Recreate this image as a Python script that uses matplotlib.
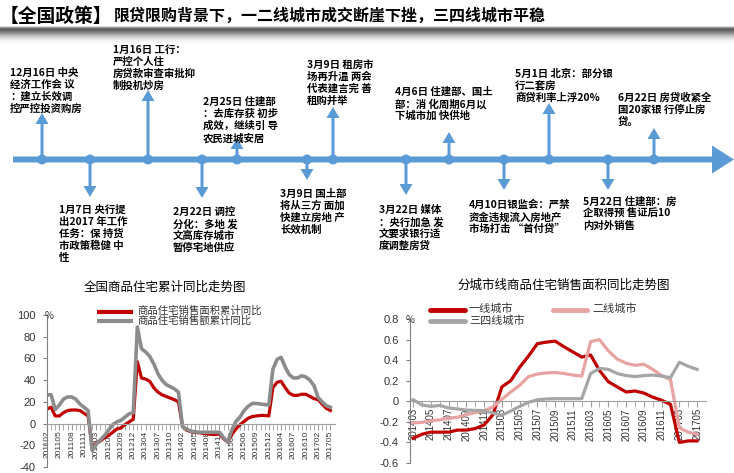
import numpy as np
import matplotlib
matplotlib.use('Agg')
import matplotlib.pyplot as plt
from matplotlib.patches import FancyArrow, Circle

plt.rcParams['font.family'] = ['Noto Sans CJK SC', 'DejaVu Sans']
plt.rcParams['axes.unicode_minus'] = False

# ---------------- data ----------------
# national cumulative YoY, monthly 2011-02 .. 2017-05 (January not published)
nat_months = [f"{y}{m:02d}" for y in range(2011, 2018) for m in range(2, 13)
              if f"{y}{m:02d}" <= "201705"]
nat_area = [13.5, 15, 7, 7, 10, 12, 12.5, 12.5, 12, 9.5, 7,
            -22, -18, -16, -13, -11, -8, -5, -4, -1, 1.5, 4,
            57, 42, 41, 39, 33, 29, 26.5, 25, 23.5, 22, 20,
            -2.5, -6, -7.5, -8, -8.5, -9, -9.5, -10, -10, -9.5, -14,
            -17, -10, -5, -1, 2, 5, 6.5, 7, 7.5, 7.5, 7,
            33, 38, 39, 33, 28, 26, 26, 27, 27, 25, 23,
            22, 18, 14, 12]
nat_value = [26.5, 26.5, 13, 17, 22.5, 24.5, 24.5, 22.5, 18, 15, 12,
             -25, -19, -15, -11, -6, -1, 1.5, 3, 6, 9, 10,
             89, 69, 66, 62, 55, 46, 40, 36, 34, 32, 29,
             -3, -5, -7, -7.5, -8, -8, -8, -8, -8, -8, -13,
             -17, -6, 2, 6, 12, 16, 18.5, 18.5, 18, 17.5, 17,
             50, 59, 61, 52, 45, 42, 42, 44, 43, 40, 35,
             24, 20, 16.5, 15]

# sales area YoY by city tier, 2014-03 .. 2017-05 (Jan/Feb merged)
city_months = [f"{y}{m:02d}" for y in range(2014, 2018) for m in range(3, 13)
               if f"{y}{m:02d}" <= "201705"]
tier1 = [-0.36, -0.32, -0.30, -0.30, -0.30, -0.28, -0.28, -0.265, -0.23, -0.13,
         0.14, 0.20, 0.33, 0.44, 0.56, 0.575, 0.585, 0.53, 0.48, 0.43,
         0.45, 0.30, 0.19, 0.14, 0.09, 0.10, 0.08, 0.04, 0.01, -0.03,
         -0.40, -0.385, -0.385]
tier2 = [-0.21, -0.205, -0.19, -0.18, -0.165, -0.155, -0.13, -0.11, -0.09, -0.055,
         0.02, 0.09, 0.155, 0.24, 0.265, 0.275, 0.28, 0.27, 0.255, 0.245,
         0.58, 0.60, 0.49, 0.41, 0.37, 0.35, 0.36, 0.31, 0.25, 0.21,
         -0.26, -0.30, -0.32]
tier34 = [0.015, -0.035, -0.05, -0.04, -0.065, -0.075, -0.085, -0.088, -0.09, -0.115,
          -0.135, -0.095, -0.05, -0.01, 0.015, 0.022, 0.025, 0.025, 0.025, 0.025,
          0.27, 0.32, 0.31, 0.27, 0.25, 0.24, 0.25, 0.255, 0.245, 0.23,
          0.38, 0.34, 0.31]

title_main = '【全国政策】'
title_sub = '限贷限购背景下，一二线城市成交断崖下挫，三四线城市平稳'

# timeline notes above the line / below the line
notes_up = ["12月16日 中央\n经济工作会 议\n：建立长效调\n控严控投资购房",
            "1月16日 工行：\n严控个人住\n房贷款审查审批抑\n制投机炒房",
            "2月25日 住建部\n：去库存获 初步\n成效，继续引 导\n农民进城安居",
            "3月9日 租房市\n场再升温 两会\n代表建言完 善\n租购并举",
            "4月6日 住建部、国土\n部：消 化周期6月以\n下城市加 快供地",
            "5月1日 北京：部分银\n行二套房\n商贷利率上浮20%",
            "6月22日 房贷收紧全\n国20家银 行停止房\n贷。"]
notes_down = ["1月7日 央行提\n出2017 年工作\n任务：保 持货\n市政策稳健 中\n性",
              "2月22日 调控\n分化：多地 发\n文高库存城市\n暂停宅地供应",
              "3月9日 国土部\n将从三方 面加\n快建立房地 产\n长效机制",
              "3月22日 媒体\n：央行加急 发\n文要求银行适\n度调整房贷",
              "4月10日银监会：严禁\n资金违规流入房地产\n市场打击 “首付贷”",
              "5月22日 住建部：房\n企取得预 售证后10\n内对外销售"]

# layout of the timeline (pixels)
up_layout = [(10, 68, 42, 113), (113, 45, 148, 90), (203, 97, 237, 138),
             (307, 60, 333, 107), (395, 87, 449, 132), (515, 69, 549, 103),
             (618, 93, 654, 128)]
down_layout = [(59, 205, 90, 197), (173, 207, 202, 198), (280, 189, 307, 180),
               (379, 205, 406, 195), (469, 200, 504, 190), (583, 197, 608, 190)]

BLUE = '#5B9BD5'
TXT = '#333333'

fig = plt.figure(figsize=(7.34, 4.73), dpi=100)

W, H = 734, 473
axL = fig.add_axes([47 / W, 6 / H, 287.5 / W, 152 / H])
axR = fig.add_axes([410 / W, 10 / H, 296 / W, 144 / H])

# ---------------- left chart ----------------
xL = np.arange(len(nat_months))
axL.plot(xL, nat_area, color='#C00000', lw=2.3, solid_joinstyle='round')
axL.plot(xL, nat_value, color='#8C8C8C', lw=2.6, solid_joinstyle='round')
axL.set_xlim(0, 70)
axL.set_ylim(-40, 100)
axL.set_yticks(range(-40, 101, 20))
axL.set_xticks(xL[::3])
axL.set_xticklabels(nat_months[::3])
axL.set_xticks(xL, minor=True)

# ---------------- right chart ----------------
xR = np.arange(len(city_months))
axR.plot(xR, tier1, color='#C00000', lw=2.3, solid_joinstyle='round')
axR.plot(xR, tier2, color='#E8A3A3', lw=2.3, solid_joinstyle='round')
axR.plot(xR, tier34, color='#A6A6A6', lw=2.3, solid_joinstyle='round')
axR.set_xlim(-0.35, 33)
axR.set_ylim(-0.6, 0.8)
yt = [-0.6, -0.4, -0.2, 0, 0.2, 0.4, 0.6, 0.8]
axR.set_yticks(yt)
axR.set_yticklabels(['-0.6', '-0.4', '-0.2', '0', '0.2', '0.4', '0.6', '0.8'])
axR.set_xticks(xR[::2])
axR.set_xticklabels(city_months[::2])
axR.set_xticks(xR, minor=True)

for ax, xfs in ((axL, 6), (axR, 7)):
    ax.set_facecolor('none')
    ax.spines['top'].set_visible(False)
    ax.spines['right'].set_visible(False)
    ax.spines['left'].set_color('#808080')
    ax.spines['bottom'].set_color('#A0A0A0')
    ax.spines['bottom'].set_position(('data', 0))
    ax.tick_params(axis='x', which='both', direction='out', length=4,
                   color='#A0A0A0', pad=1)
    ax.tick_params(axis='x', which='major', labelrotation=90, labelsize=xfs,
                   labelcolor=TXT, labelfontfamily='Liberation Sans')
    ax.tick_params(axis='y', direction='out', length=3, color='#808080',
                   labelsize=8, labelcolor=TXT, pad=5,
                   labelfontfamily='Liberation Sans')

# ---------------- overlay (pixel coordinates) ----------------
ax0 = fig.add_axes([0, 0, 1, 1])
ax0.set_facecolor('none')

# grey gradient band under the title
rows = np.arange(26, 45)
shade = np.interp(rows, [26, 27, 29, 32, 36, 40, 44], [0.9, 0.6, 0.35, 0.5, 0.75, 0.93, 1.0])
ax0.imshow(np.repeat(shade[:, None], 2, axis=1), cmap='gray', vmin=0, vmax=1,
           extent=[0, W, 44, 26], aspect='auto', interpolation='bilinear')
ax0.set_xlim(0, W)
ax0.set_ylim(H, 0)
ax0.axis('off')

ax0.text(0, 16, title_main, fontsize=13.5, fontweight='bold', va='center', ha='left')
ax0.text(114, 16, title_sub, fontsize=11.5, fontweight='bold', va='center', ha='left')

# timeline
LINE_Y = 159.5
ax0.add_patch(FancyArrow(13, LINE_Y, W - 13, 0, width=6, head_width=28,
                         head_length=22, length_includes_head=True,
                         color=BLUE, lw=0))
for note, (tx, ty, axx, tip) in zip(notes_up + notes_down, up_layout + down_layout):
    ax0.add_patch(FancyArrow(axx, LINE_Y, 0, tip - LINE_Y, width=3, head_width=13,
                             head_length=11, length_includes_head=True,
                             color=BLUE, lw=0))
    ax0.add_patch(Circle((axx, LINE_Y), 5, color=BLUE, lw=0))
    for k, line in enumerate(note.split('\n')):
        ax0.text(tx, ty + 5 + 12 * k, line, fontsize=7.5, fontweight='bold',
                 va='center', ha='left', color='black')

# chart titles
ax0.text(165, 287, '全国商品住宅累计同比走势图', fontsize=9, ha='center', va='center')
ax0.text(564, 285, '分城市线商品住宅销售面积同比走势图', fontsize=9, ha='center', va='center')

# left legend
ax0.plot([97, 133], [312, 312], color='#C00000', lw=3, solid_capstyle='butt')
ax0.plot([97, 133], [321, 321], color='#8C8C8C', lw=3, solid_capstyle='butt')
ax0.text(137, 311, '商品住宅销售面积累计同比', fontsize=7.5, va='center', color=TXT)
ax0.text(137, 321, '商品住宅销售额累计同比', fontsize=7.5, va='center', color=TXT)
ax0.text(45, 316, '%', fontsize=7, va='center', color=TXT)

# right legend
ax0.plot([430, 465], [310, 310], color='#C00000', lw=3.5, solid_capstyle='round')
ax0.plot([553, 587], [310, 310], color='#E8A3A3', lw=3.5, solid_capstyle='round')
ax0.plot([430, 465], [321, 321], color='#A6A6A6', lw=3.5, solid_capstyle='round')
ax0.text(469, 309, '一线城市', fontsize=8, va='center', color=TXT)
ax0.text(592, 309, '二线城市', fontsize=8, va='center', color=TXT)
ax0.text(469, 321, '三四线城市', fontsize=8, va='center', color=TXT)
ax0.text(406, 320, '%', fontsize=7, va='center', color=TXT)

fig.savefig('out.png', dpi=100)
